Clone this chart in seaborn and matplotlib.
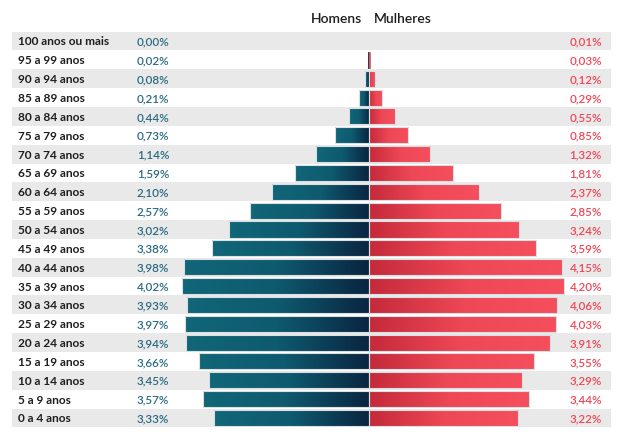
import numpy as np
import pandas as pd
import matplotlib
matplotlib.use("Agg")
import matplotlib.pyplot as plt
import matplotlib.transforms as mtransforms
from matplotlib.colors import LinearSegmentedColormap
import seaborn as sns

# === Data ===
ages = ["100 anos ou mais", "95 a 99 anos", "90 a 94 anos", "85 a 89 anos",
        "80 a 84 anos", "75 a 79 anos", "70 a 74 anos", "65 a 69 anos",
        "60 a 64 anos", "55 a 59 anos", "50 a 54 anos", "45 a 49 anos",
        "40 a 44 anos", "35 a 39 anos", "30 a 34 anos", "25 a 29 anos",
        "20 a 24 anos", "15 a 19 anos", "10 a 14 anos", "5 a 9 anos", "0 a 4 anos"]
homens = [0.00, 0.02, 0.08, 0.21, 0.44, 0.73, 1.14, 1.59, 2.10, 2.57, 3.02,
          3.38, 3.98, 4.02, 3.93, 3.97, 3.94, 3.66, 3.45, 3.57, 3.33]
mulheres = [0.01, 0.03, 0.12, 0.29, 0.55, 0.85, 1.32, 1.81, 2.37, 2.85, 3.24,
            3.59, 4.15, 4.20, 4.06, 4.03, 3.91, 3.55, 3.29, 3.44, 3.22]

df = pd.concat([
    pd.DataFrame({"idade": ages, "sexo": "Homens", "valor": [-v for v in homens]}),
    pd.DataFrame({"idade": ages, "sexo": "Mulheres", "valor": mulheres}),
], ignore_index=True)

W, H = 620, 439
center_px, scale_px = 369, 46.4
pitch_px, top_px = 18.85, 42

def fmt(v):
    return f"{v:.2f}".replace(".", ",") + "%"

# === Plot ===
sns.set_style("white")
plt.rcParams["font.family"] = ["Lato", "DejaVu Sans"]
fig = plt.figure(figsize=(W / 100, H / 100), dpi=100)
ax = fig.add_axes([0, 0, 1, 1])

sns.barplot(data=df, y="idade", x="valor", hue="sexo", order=ages,
            dodge=False, orient="h", width=0.85, legend=False,
            palette={"Homens": "#0b2d48", "Mulheres": "#f04856"}, ax=ax)
bars = list(ax.patches)

xlim = (-center_px / scale_px, (W - center_px) / scale_px)
ylim = (20 + (H - (top_px + 20 * pitch_px)) / pitch_px, -top_px / pitch_px)

# alternating row bands
for i in range(0, len(ages), 2):
    ax.axhspan(i - 0.5, i + 0.5, xmin=12 / W, xmax=611 / W,
               facecolor="#e9e9e9", edgecolor="none", zorder=0, lw=0)

cmap_h = LinearSegmentedColormap.from_list("h", ["#116678", "#0e5a6f", "#0a2541"])
cmap_m = LinearSegmentedColormap.from_list("m", ["#c42a3a", "#ee4755", "#f54e5c"])
grad = np.linspace(0, 1, 256).reshape(1, -1)
for p in bars:
    x0, y0, w, h = p.get_x(), p.get_y(), p.get_width(), p.get_height()
    wpx = abs(w) * scale_px
    if wpx < 0.6:
        p.set_visible(False)
        continue
    if wpx < 3:
        # very thin bars: solid fill, edge in the same colour so they show
        p.set_edgecolor(p.get_facecolor())
        p.set_linewidth(0.6)
        p.set_zorder(3)
        continue
    cmap = cmap_h if w < 0 else cmap_m
    xa, xb = min(x0, x0 + w), max(x0, x0 + w)
    im = ax.imshow(grad, cmap=cmap, aspect="auto", extent=(xa, xb, y0 + h, y0),
                   zorder=2, interpolation="bicubic")
    im.set_clip_path(p)
    p.set_facecolor("none")
    p.set_edgecolor("#d9dfe2")
    p.set_linewidth(0.8)
    p.set_zorder(3)

ax.set_xlim(*xlim)
ax.set_ylim(*ylim)
ax.axis("off")

trans = mtransforms.blended_transform_factory(ax.transAxes, ax.transData)
for i, age in enumerate(ages):
    ax.text(18 / W, i, age, transform=trans, ha="left", va="center",
            fontsize=8.6, color="#1e1e1e", fontweight="bold")
    ax.text(153 / W, i, fmt(homens[i]), transform=trans, ha="center", va="center",
            fontsize=8.4, color="#2b6b82", fontweight="semibold")
    ax.text(602 / W, i, fmt(mulheres[i]), transform=trans, ha="right", va="center",
            fontsize=8.4, color="#f04856", fontweight="semibold")

fig.text(362 / W, 1 - 19 / H, "Homens", ha="right", va="center",
         fontsize=10, color="#1e1e1e", fontweight="semibold")
fig.text(374 / W, 1 - 19 / H, "Mulheres", ha="left", va="center",
         fontsize=10, color="#1e1e1e", fontweight="semibold")

fig.savefig("out.png", dpi=100)
